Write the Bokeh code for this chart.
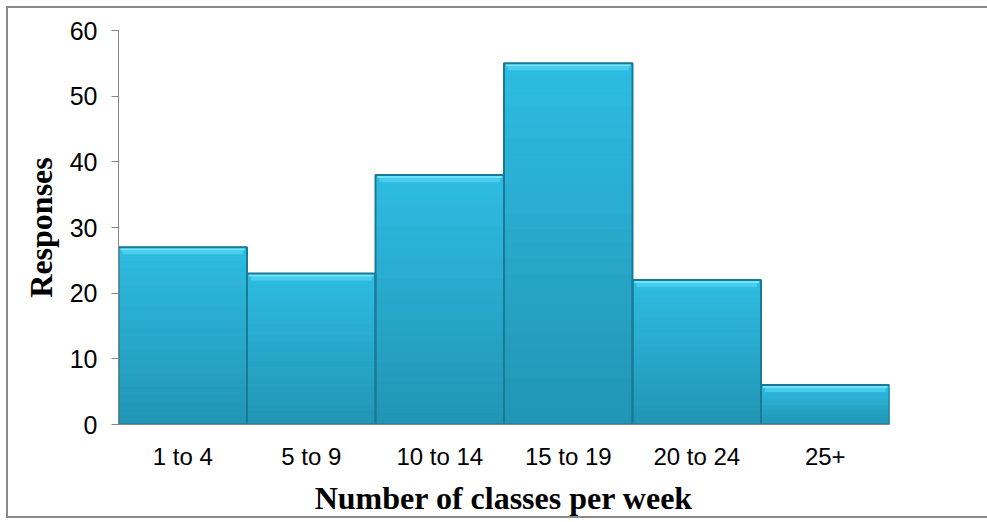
from bokeh.plotting import figure
from bokeh.models import ColumnDataSource, Range1d, FixedTicker
from bokeh.embed import file_html
from bokeh.resources import INLINE

# ---- data ----
categories = ["1 to 4", "5 to 9", "10 to 14", "15 to 19", "20 to 24", "25+"]
responses = [27, 23, 38, 55, 22, 6]
y_ticks = [0, 10, 20, 30, 40, 50, 60]
x_title = "Number of classes per week"
y_title = "Responses"

# ---- style ----
TOP_COL = (0x2E, 0xBC, 0xE2)
BOT_COL = (0x21, 0x95, 0xB4)
N_SLICES = 24
FRAME_H = 394
Y_MAX = 60
PX = Y_MAX / FRAME_H  # data units per pixel

def mix(t):
    c = [round(TOP_COL[j] + (BOT_COL[j] - TOP_COL[j]) * t) for j in range(3)]
    return "#%02x%02x%02x" % tuple(c)

p = figure(
    x_range=categories, y_range=Range1d(0, Y_MAX),
    width=983, height=512,
    min_border_left=110, min_border_right=102, min_border_top=22, min_border_bottom=96,
    output_backend="svg", toolbar_location=None,
)
p.styles = {
    "margin-left": "6px", "margin-top": "6px",
    "border-left": "2px solid #8a8a8a",
    "border-top": "2px solid #8a8a8a",
    "border-bottom": "2px solid #8a8a8a",
}
p.outline_line_color = None
p.xgrid.grid_line_color = None
p.ygrid.grid_line_color = None
p.background_fill_color = "white"
p.border_fill_color = "white"

# gradient body
xs, bots, tops, cols = [], [], [], []
for c, v in zip(categories, responses):
    for k in range(N_SLICES):
        t0 = k / N_SLICES
        t1 = (k + 1) / N_SLICES
        xs.append(c)
        tops.append(v * (1 - t0))
        bots.append(v * (1 - t1))
        cols.append(mix((t0 + t1) / 2))
p.vbar(x=xs, top=tops, bottom=bots, width=1.0, fill_color=cols, line_color=cols, line_width=1)

# top bevel highlight
src = ColumnDataSource(dict(
    x=categories,
    top=responses,
    b1=[v - 7 * PX for v in responses],
    b2=[v - 3 * PX for v in responses],
))
p.vbar(x="x", top="top", bottom="b1", width=0.94, source=src,
       fill_color="#48CDEE", line_color=None)
p.vbar(x="x", top="top", bottom="b2", width=0.97, source=src,
       fill_color="#6FE3F9", line_color=None)

# dark edges
p.vbar(x="x", top="top", bottom=0, width=1.0, source=src,
       fill_color=None, line_color="#1A7A95", line_width=2)

# axes
yax = p.yaxis[0]
yax.ticker = FixedTicker(ticks=y_ticks)
yax.axis_line_color = "#868686"
yax.major_tick_line_color = "#868686"
yax.major_tick_out = 7
yax.major_tick_in = 0
yax.minor_tick_line_color = None
yax.major_label_standoff = 14
yax.major_label_text_font = "Liberation Sans"
yax.major_label_text_font_size = "25px"
yax.major_label_text_color = "#000000"
yax.axis_label = y_title
yax.axis_label_text_font = "Liberation Serif"
yax.axis_label_text_font_style = "bold"
yax.axis_label_text_font_size = "32px"
yax.axis_label_text_color = "#000000"
yax.axis_label_standoff = 8

xax = p.xaxis[0]
xax.axis_line_color = "#868686"
xax.major_tick_line_color = None
xax.major_tick_out = 0
xax.major_tick_in = 0
xax.minor_tick_line_color = None
xax.major_label_standoff = 18
xax.major_label_text_font = "Liberation Sans"
xax.major_label_text_font_size = "24px"
xax.major_label_text_color = "#000000"
xax.axis_label = x_title
xax.axis_label_text_font = "Liberation Serif"
xax.axis_label_text_font_style = "bold"
xax.axis_label_text_font_size = "32px"
xax.axis_label_text_color = "#000000"
xax.axis_label_standoff = 7

open("out.html", "w").write(file_html(p, INLINE))
